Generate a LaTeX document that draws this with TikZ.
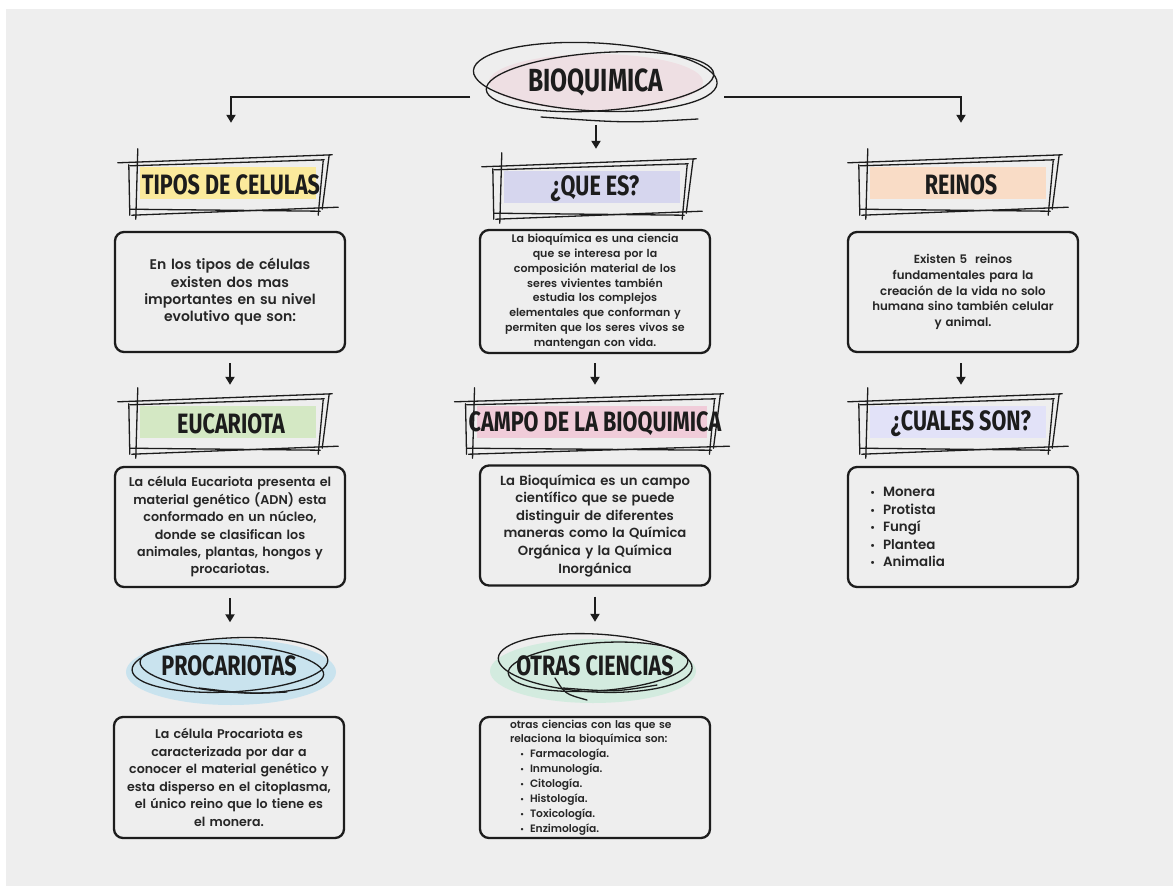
\documentclass[tikz,border=0pt]{standalone}
\usepackage{fontspec}
\setmainfont{Poppins}[UprightFont={* SemiBold}]
\newfontfamily\hd[FakeStretch=0.77]{Fira Sans}
\usetikzlibrary{arrows.meta,calc,shapes.geometric}
\pgfdeclarelayer{back}
\pgfdeclarelayer{hl}
\pgfsetlayers{back,hl,main}
\definecolor{bgc}{HTML}{EEEEEE}
\definecolor{ink}{HTML}{1C1C1C}
\definecolor{txt}{HTML}{262626}
\definecolor{pinkT}{HTML}{EEDFE3}
\definecolor{yel}{HTML}{FBEA9C}
\definecolor{lavQ}{HTML}{D6D6EE}
\definecolor{peach}{HTML}{F9DCC6}
\definecolor{grn}{HTML}{D4E8C4}
\definecolor{pinkC}{HTML}{F0CCD9}
\definecolor{lavC}{HTML}{E2E2F8}
\definecolor{blu}{HTML}{C9E3EE}
\definecolor{mint}{HTML}{D3EBDF}
\newcommand\skrect[2]{%
 \begin{pgfonlayer}{hl}
 \fill[#2] ($(#1.north west)+(8,10)$) rectangle ($(#1.south east)+(-14,-14)$);
 \end{pgfonlayer}
 \draw[sk] ($(#1.north west)+(-14,6)$) -- ($(#1.north east)+(2,-2)$);
 \draw[sk] ($(#1.north west)+(-2,9)$) -- ($(#1.north east)+(-6,3)$);
 \draw[sk] ($(#1.north west)+(6,-8)$) -- ($(#1.south west)+(4,6)$);
 \draw[sk] ($(#1.north west)+(-3,8)$) -- ($(#1.south west)+(-2,2)$);
 \draw[sk] ($(#1.north east)+(-1,-2)$) -- ($(#1.south east)+(-8,-4)$);
 \draw[sk] ($(#1.north east)+(-7,4)$) -- ($(#1.south east)+(-12,2)$);
 \draw[sk] ($(#1.south west)+(-2,-4)$) -- ($(#1.south east)+(-10,-2)$);
 \draw[sk] ($(#1.south west)+(0,2)$) -- ($(#1.south east)+(8,-6)$);
}
\newcommand\bl{\makebox[13pt][l]{\scalebox{0.8}{•}}}
\newcommand\bm{\hspace*{10pt}\makebox[10pt][l]{\scalebox{0.8}{•}}}
\begin{document}
\begin{tikzpicture}[x=1pt,y=-1pt,
 sk/.style={draw=ink,line width=1.3pt,line cap=round},
 hdr/.style={minimum width=198,minimum height=56,inner sep=0,text=ink,
   font=\hd\bfseries\fontsize{28}{30}\selectfont},
 ehdr/.style={ellipse,minimum width=196,minimum height=57,inner sep=0,text=ink,
   font=\hd\bfseries\fontsize{28}{30}\selectfont},
 body/.style={draw=ink,line width=2.3pt,rounded corners=9pt,minimum width=230,
   minimum height=120,inner xsep=8,inner ysep=0,text width=214,align=center,text=txt,
   font=\fontsize{12.7}{17.4}\selectfont},
 arr/.style={draw=ink,line width=2pt,-{Triangle[width=9pt,length=8pt]}},
]
\begin{pgfonlayer}{back}
\fill[white] (0,0) rectangle (1173,886);
\fill[bgc] (6,9) rectangle (1173,886);
\end{pgfonlayer}
\useasboundingbox (0,0) rectangle (1173,886);

% title
\node[ellipse,fill=pinkT,minimum width=214,minimum height=56,inner sep=0,text=ink,
  font=\hd\bfseries\fontsize{32}{34}\selectfont] (title) at (596,82) {BIOQUIMICA};
\draw[sk,shift={(title.center)},rotate=-3] (-1,-5) ellipse [x radius=122,y radius=34];
\draw[sk,shift={(title.center)},rotate=4] (4,0) ellipse [x radius=114,y radius=29];
\draw[sk] ($(title.center)+(-55,35)$) .. controls ($(title.center)+(30,41)$) .. ($(title.center)+(102,37)$);

% headers
\node[hdr] (tipos) at (231,185) {TIPOS DE CELULAS};
\node[hdr] (quees) at (595,189) {¿QUE ES?};
\node[hdr] (reinos) at (961,185) {REINOS};
\node[hdr] (euca) at (231,424) {EUCARIOTA};
\node[hdr] (campo) at (595,424) {CAMPO DE LA BIOQUIMICA};
\node[hdr] (cuales) at (961,424) {¿CUALES SON?};
\skrect{tipos}{yel}
\skrect{quees}{lavQ}
\skrect{reinos}{peach}
\skrect{euca}{grn}
\skrect{campo}{pinkC}
\skrect{cuales}{lavC}

% ellipse headers
\node[ehdr] (proc) at (229,666) {PROCARIOTAS};
\node[ehdr,minimum width=194,minimum height=62] (otras) at (595,666) {OTRAS CIENCIAS};
\begin{pgfonlayer}{hl}
\fill[blu] ($(proc.center)+(2,6)$) ellipse [x radius=105,y radius=33];
\fill[mint] ($(otras.center)+(-2,5)$) ellipse [x radius=103,y radius=32];
\end{pgfonlayer}
\draw[sk,shift={(proc.center)},rotate=3] (1,-1) ellipse [x radius=98,y radius=27];
\draw[sk,shift={(proc.center)},rotate=-4] (3,2) ellipse [x radius=92,y radius=24];
\draw[sk] ($(proc.center)+(-30,22)$) .. controls ($(proc.center)+(20,28)$) .. ($(proc.center)+(58,26)$);
\draw[sk,shift={(otras.center)},rotate=-3] (0,-3) ellipse [x radius=97,y radius=29];
\draw[sk,shift={(otras.center)},rotate=4] (3,1) ellipse [x radius=90,y radius=24];
\draw[sk] ($(otras.center)+(-32,22)$) .. controls ($(otras.center)+(20,26)$) .. ($(otras.center)+(62,19)$);
\draw[sk] ($(otras.center)+(-40,12)$) .. controls ($(otras.center)+(-30,28)$) .. ($(otras.center)+(-8,34)$);

% bodies
\node[body,font=\fontsize{14}{17.4}\selectfont] (tiposb) at (230,292) {En los tipos de células\\existen dos mas\\importantes en su nivel\\evolutivo que son:};
\node[body,minimum height=123,font=\fontsize{11}{14.9}\selectfont] (queesb) at (595,291.5)
 {La bioquímica es una ciencia\\que se interesa por la\\composición material de los\\seres vivientes también\\estudia los complejos\\elementales que conforman y\\permiten que los seres vivos se\\mantengan con vida.};
\node[body,font=\fontsize{11.8}{15.8}\selectfont] (reinosb) at (963,292)
 {Existen 5\ \ reinos\\fundamentales para la\\creación de la vida no solo\\humana sino también celular\\y animal.};
\node[body] (eucab) at (230,527) {La célula Eucariota presenta el\\material genético (ADN) esta\\conformado en un núcleo,\\donde se clasifican los\\animales, plantas, hongos y\\procariotas.};
\node[body,font=\fontsize{13.2}{17.6}\selectfont] (campob) at (595,525.5) {La Bioquímica es un campo\\científico que se puede\\distinguir de diferentes\\maneras como la Química\\Orgánica y la Química\\Inorgánica};
\node[body,text width=186,inner xsep=22,align=left,font=\fontsize{13.4}{17.5}\selectfont] (cualesb) at (963,527)
 {\bl Monera\\\bl Protista\\\bl Fungí\\\bl Plantea\\\bl Animalia};
\node[body,minimum height=121,font=\fontsize{12.6}{17.6}\selectfont] (procb) at (229,777.5) {La célula Procariota es\\caracterizada por dar a\\conocer el material genético y\\esta disperso en el citoplasma,\\el único reino que lo tiene es\\el monera.};
\node[body,minimum height=121,text width=170,inner xsep=30,align=left,font=\fontsize{10.7}{14.9}\selectfont] (otrasb) at (595,777.5)
 {otras ciencias con las que se\\relaciona la bioquímica son:\\
 \bm Farmacología.\\
 \bm Inmunología.\\
 \bm Citología.\\
 \bm Histología.\\
 \bm Toxicología.\\
 \bm Enzimología.};

% connectors
\coordinate (tl) at (470,97);
\coordinate (tr) at (724,97);
\draw[arr,shorten >=34pt] (tl) -| (tipos);
\draw[arr,shorten >=34pt] (tr) -| (reinos);
\draw[arr,shorten <=15pt,shorten >=12pt] (title.south) -- (title.south |- quees.north);
\draw[arr,shorten <=10pt,shorten >=11pt] (tiposb.south) -- (tiposb.south |- euca.north);
\draw[arr,shorten <=9pt,shorten >=11pt] (queesb.south) -- (queesb.south |- campo.north);
\draw[arr,shorten <=10pt,shorten >=11pt] (reinosb.south -| reinos.north) -- (reinos.north |- cuales.north);
\draw[arr,shorten <=10pt,shorten >=15pt] (eucab.south) -- (eucab.south |- proc.north);
\draw[arr,shorten <=10pt,shorten >=13pt] (campob.south) -- (campob.south |- otras.north);
\end{tikzpicture}
\end{document}
